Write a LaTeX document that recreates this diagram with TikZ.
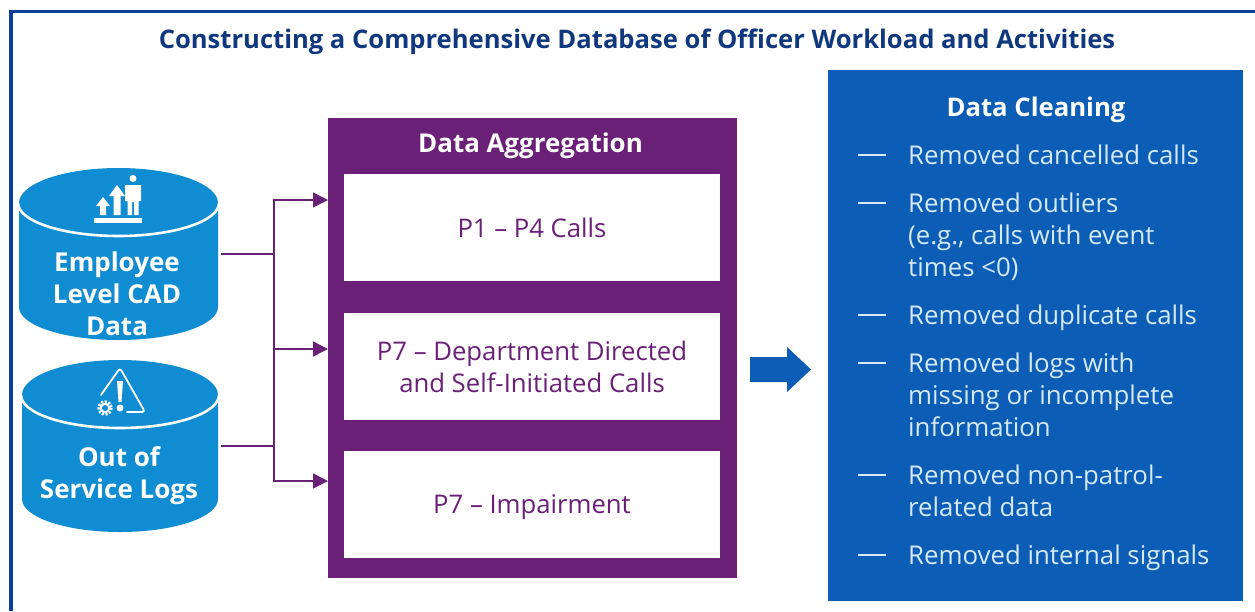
\documentclass[tikz,border=0pt]{standalone}
\usepackage{fontspec}
\setmainfont{Open Sans}
\usetikzlibrary{arrows.meta}
\definecolor{framecol}{HTML}{0A3F9C}
\definecolor{titlecol}{HTML}{10387F}
\definecolor{purp}{HTML}{6B2078}
\definecolor{cyl}{HTML}{0F8CD2}
\definecolor{panelblue}{HTML}{0B5DB6}
\definecolor{lighttext}{HTML}{D6E9F8}
\tikzset{
  panelbox/.style={draw=none,fill=#1,inner sep=0pt,outer sep=0pt},
  whitebox/.style={fill=white,inner sep=0pt,outer sep=0pt,minimum width=376pt,minimum height=107pt,align=center,text=purp,font=\fontsize{25.7}{32}\selectfont},
  dbnode/.style={inner sep=0pt,outer sep=0pt,minimum width=199pt,minimum height=172pt},
  dblabel/.style={text=white,font=\fontsize{26}{32}\selectfont\bfseries,align=center,inner sep=0pt},
  link/.style={draw=purp,line width=1.5pt},
  linkarrow/.style={link,-{Triangle[length=15pt,width=15pt,fill=purp]}},
  bullettext/.style={anchor=base west,text=lighttext,inner sep=0pt,font=\fontsize{25.8}{32}\selectfont},
  bulletdash/.style={draw=lighttext,line width=1.1pt},
  icon/.style={fill=white,draw=none},
}
\newcommand{\cylshape}[4]{% left, right, top, bottom
  \pgfmathsetmacro{\rx}{(#2-#1)/2}
  \fill[cyl] (#1,#3+35) -- (#1,#4-33) arc[start angle=180,end angle=360,x radius=\rx,y radius=-33] -- (#2,#3+35)
     arc[start angle=0,end angle=180,x radius=\rx,y radius=-35] -- cycle;
  \draw[white,line width=2.6pt] (#1-1,#3+35) arc[start angle=180,end angle=360,x radius=\rx+1,y radius=-33];
}
\begin{document}
\begin{tikzpicture}[x=1pt,y=-1pt]
\useasboundingbox (0,0) rectangle (1255,611);
\fill[white] (0,0) rectangle (1255,611);
% frame
\draw[framecol,line width=3.5pt] (11,611) -- (11,11.5) -- (1255,11.5);
% title
\node[text=titlecol,anchor=base,inner sep=0pt,font=\fontsize{25.6}{30}\selectfont\bfseries] (title) at (637,48) {Constructing a Comprehensive Database of Officer Workload and Activities};
% databases
\cylshape{19}{218}{168}{340}
\cylshape{22}{218}{360}{532}
\node[dbnode] (db1) at (118.5,254) {};
\node[dbnode] (db2) at (120,446) {};
\node[dblabel] (db1t) at (117,294) {Employee\\Level CAD\\Data};
\node[dblabel] (db2t) at (119,476) {Out of\\Service Logs};
% icon 1
\fill[icon] (94,218) rectangle (142,223);
\fill[icon] (103,197) -- (110,206) -- (106,206) -- (106,215) -- (100,215) -- (100,206) -- (96,206) -- cycle;
\fill[icon] (117,185) -- (125,196) -- (120.5,196) -- (120.5,215) -- (113.5,215) -- (113.5,196) -- (109,196) -- cycle;
\fill[icon] (133,178.5) circle[radius=3.5];
\fill[icon] (125,185) -- (141,185) -- (141,201) -- (138.5,201) -- (138.5,215) -- (134,215) -- (134,202) -- (132,202) -- (132,215) -- (127.5,215) -- (127.5,201) -- (125,201) -- cycle;
% icon 2
\draw[white,line width=1.8pt,line cap=round,rounded corners=3pt] (101,395) -- (120,368) -- (145,412) -- (127,412);
\fill[icon] (117,381) -- (123,381) -- (121.5,402) -- (118.5,402) -- cycle;
\fill[icon] (120,408) circle[radius=3.5];
\draw[white,line width=3pt,dash pattern=on 2pt off 1.6pt] (105,408) circle[radius=6.2];
\draw[white,line width=2pt] (105,408) circle[radius=4.2];
% aggregation panel
\node[panelbox=purp,minimum width=409pt,minimum height=460pt] (panel) at (532.5,348) {};
\node[text=white,inner sep=0pt,anchor=base,font=\fontsize{25.9}{32}\selectfont\bfseries] (aggt) at (530.5,152) {Data Aggregation};
\node[whitebox] (p1) at (532,227.5) {P1 – P4 Calls};
\node[whitebox] (p7a) at (532,366.5) {P7 – Department Directed\\and Self-Initiated Calls};
\node[whitebox,text depth=0pt] (p7b) at (532,504.5) {P7 – Impairment};
% connectors
\coordinate (junc1) at (274,254);
\coordinate (junc2) at (274,446);
\draw[link] (db1.east) ++(3,0) -- (junc1);
\draw[link] (db2.east) ++(1.5,0) -- (junc2);
\draw[linkarrow] (junc1) |- (panel.west |- 0,200);
\draw[linkarrow] (junc1) |- (panel.west |- 0,349);
\draw[linkarrow] (junc2) |- (panel.west |- 0,481);
\draw[link] (junc1) -- (junc2);
% block arrow
\fill[panelblue] (750,357) -- (787,357) -- (787,347) -- (811,369.5) -- (787,392) -- (787,382) -- (750,382) -- cycle;
% cleaning panel
\node[panelbox=panelblue,minimum width=415pt,minimum height=531pt] (clean) at (1035.5,335.5) {};
\node[text=white,inner sep=0pt,anchor=base,font=\fontsize{25.7}{32}\selectfont\bfseries] (cleant) at (1036,116) {Data Cleaning};
\foreach \y/\t [count=\i] in {164/Removed cancelled calls,212/Removed outliers,324/Removed duplicate calls,372/Removed logs with,484/Removed non-patrol-,564/Removed internal signals}{
  \draw[bulletdash] (858,\y-9) -- (886,\y-9);
  \node[bullettext] (b\i) at (908,\y) {\t};
}
\node[bullettext] (b2a) at (908,244) {(e.g., calls with event};
\node[bullettext] (b2b) at (908,276) {times <0)};
\node[bullettext] (b4a) at (908,404) {missing or incomplete};
\node[bullettext] (b4b) at (908,436) {information};
\node[bullettext] (b5a) at (908,516) {related data};
\end{tikzpicture}
\end{document}
